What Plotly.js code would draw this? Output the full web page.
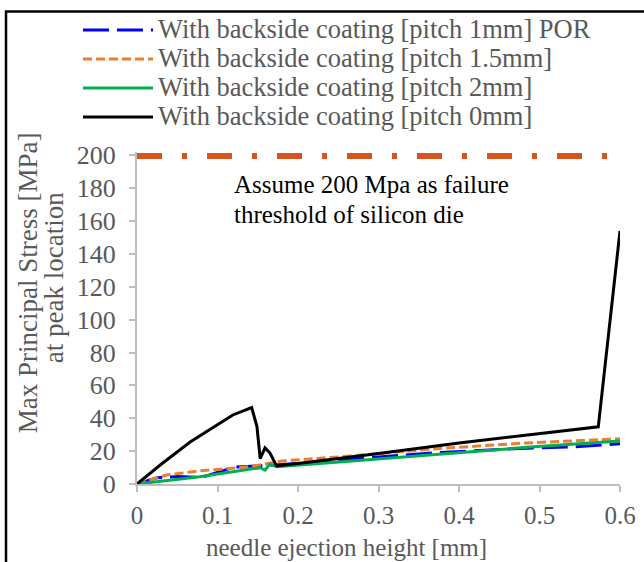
<!DOCTYPE html>
<html>
<head>
<meta charset="utf-8">
<script src="https://cdn.plot.ly/plotly-3.0.1.min.js"></script>
<style>html,body{margin:0;padding:0;background:#fff;}#chart{width:644px;height:562px;}</style>
</head>
<body>
<div id="chart"></div>
<script>
// Data
const seriesNames = [
  "With backside coating [pitch 1mm] POR",
  "With backside coating [pitch 1.5mm]",
  "With backside coating [pitch 2mm]",
  "With backside coating [pitch 0mm]"
];
const pitch1X = [0, 0.025, 0.05, 0.08, 0.1, 0.12, 0.15, 0.2, 0.3, 0.372, 0.484, 0.54, 0.6];
const pitch1Y = [0, 3.8, 4.5, 4, 7, 10.2, 11, 12.5, 16.5, 19, 21.8, 22.5, 24.5];
const pitch15X = [0, 0.037, 0.078, 0.14, 0.18, 0.265, 0.372, 0.484, 0.6];
const pitch15Y = [0, 5.5, 8, 10.5, 14, 17, 21.5, 25, 27.5];
const pitch2X = [0, 0.078, 0.153, 0.159, 0.165, 0.174, 0.255, 0.372, 0.484, 0.6];
const pitch2Y = [0, 4.4, 9.9, 8.5, 12, 10.5, 13.6, 18, 22.3, 26.1];
const pitch0X = [0, 0.03, 0.066, 0.1, 0.119, 0.1425, 0.149, 0.153, 0.159, 0.165, 0.1735, 0.2, 0.3, 0.4, 0.5, 0.573, 0.6];
const pitch0Y = [0, 12, 25.5, 36, 42, 46.5, 35, 15.5, 22, 19, 11, 12.5, 18.5, 25, 30.5, 34.8, 154];
const thresholdX = [0, 0.6];
const thresholdY = [199.5, 199.5];
const xTickVals = [0, 0.1, 0.2, 0.3, 0.4, 0.5, 0.6];
const xTickText = ["0", "0.1", "0.2", "0.3", "0.4", "0.5", "0.6"];
const yTickVals = [0, 20, 40, 60, 80, 100, 120, 140, 160, 180, 200];
const yTickText = ["0", "20", "40", "60", "80", "100", "120", "140", "160", "180", "200"];
const xTitle = "needle ejection height [mm]";
const yTitle1 = "Max Principal Stress [MPa]";
const yTitle2 = "at peak location";
const noteLines = ["Assume 200 Mpa as failure", "threshold of silicon die"];

const FONT = "Liberation Serif";
const GRAY = "#595959";
const sized = (s, n) => '<span style="font-size:' + n + 'px">' + s + '</span>';

const traces = [
  {x: pitch1X, y: pitch1Y, name: sized(seriesNames[0], 26.5), mode: "lines",
   line: {color: "#0000FF", width: 3, dash: "26px,8px"}},
  {x: pitch15X, y: pitch15Y, name: sized(seriesNames[1], 26.5), mode: "lines",
   line: {color: "#ED7D31", width: 3, dash: "9px,4px"}},
  {x: pitch2X, y: pitch2Y, name: sized(seriesNames[2], 26.5), mode: "lines",
   line: {color: "#00B050", width: 3}},
  {x: pitch0X, y: pitch0Y, name: sized(seriesNames[3], 26.5), mode: "lines",
   line: {color: "#000000", width: 3}},
  {x: thresholdX, y: thresholdY, name: "threshold", mode: "lines", showlegend: false,
   line: {color: "#D9531E", width: 6, dash: "25px,20px,5px,20px"}}
];

// plot area: x 137..620, y 0 at 484, y 200 at 155
const H = 329 * 202 / 200;
const px = v => (v - 137) / 483;
const py = v => (484 - v) / H;

const layout = {
  width: 644, height: 562,
  margin: {l: 137, r: 24, t: 484 - H, b: 78, pad: 0, autoexpand: false},
  paper_bgcolor: "#ffffff", plot_bgcolor: "#ffffff",
  font: {family: FONT, size: 24, color: GRAY},
  showlegend: true,
  legend: {x: px(78), y: py(10), xanchor: "left", yanchor: "top",
    bgcolor: "rgba(0,0,0,0)", itemwidth: 70, traceorder: "normal",
    font: {family: FONT, size: 20, color: GRAY}},
  xaxis: {range: [0, 0.6], tickvals: xTickVals, ticktext: xTickText,
    showgrid: false, zeroline: false, showline: true, linecolor: "#BFBFBF", linewidth: 2,
    ticks: "outside", ticklen: 6, tickwidth: 2, tickcolor: "#BFBFBF",
    ticklabelstandoff: 2, tickfont: {family: FONT, size: 25, color: GRAY}},
  yaxis: {range: [0, 202], tickvals: yTickVals, ticktext: yTickText,
    showgrid: false, zeroline: false, showline: true, linecolor: "#BFBFBF", linewidth: 2,
    ticks: "outside", ticklen: 6, tickwidth: 2, tickcolor: "#BFBFBF",
    ticklabelstandoff: 8, tickfont: {family: FONT, size: 26, color: GRAY}},
  shapes: [
    {type: "rect", xref: "paper", yref: "paper", x0: px(6), x1: 1.2, y0: -0.4, y1: py(11),
     line: {color: "#000000", width: 2.5}, fillcolor: "rgba(0,0,0,0)"}
  ],
  annotations: [
    {text: yTitle1, xref: "paper", yref: "paper", x: px(28), y: py(283), textangle: -90,
     showarrow: false, xanchor: "center", yanchor: "middle", font: {family: FONT, size: 27, color: GRAY}},
    {text: yTitle2, xref: "paper", yref: "paper", x: px(54), y: py(278), textangle: -90,
     showarrow: false, xanchor: "center", yanchor: "middle", font: {family: FONT, size: 27, color: GRAY}},
    {text: xTitle, xref: "paper", yref: "paper", x: px(346), y: py(548),
     showarrow: false, xanchor: "center", yanchor: "middle", font: {family: FONT, size: 25, color: GRAY}},
    {text: noteLines.map(s => sized(s, 25)).join("<br>"), xref: "paper", yref: "paper",
     x: px(232), y: py(199), align: "left",
     showarrow: false, xanchor: "left", yanchor: "middle", font: {family: FONT, size: 23, color: "#000000"}}
  ]
};

Plotly.newPlot("chart", traces, layout, {staticPlot: true, displayModeBar: false});
</script>
</body>
</html>
